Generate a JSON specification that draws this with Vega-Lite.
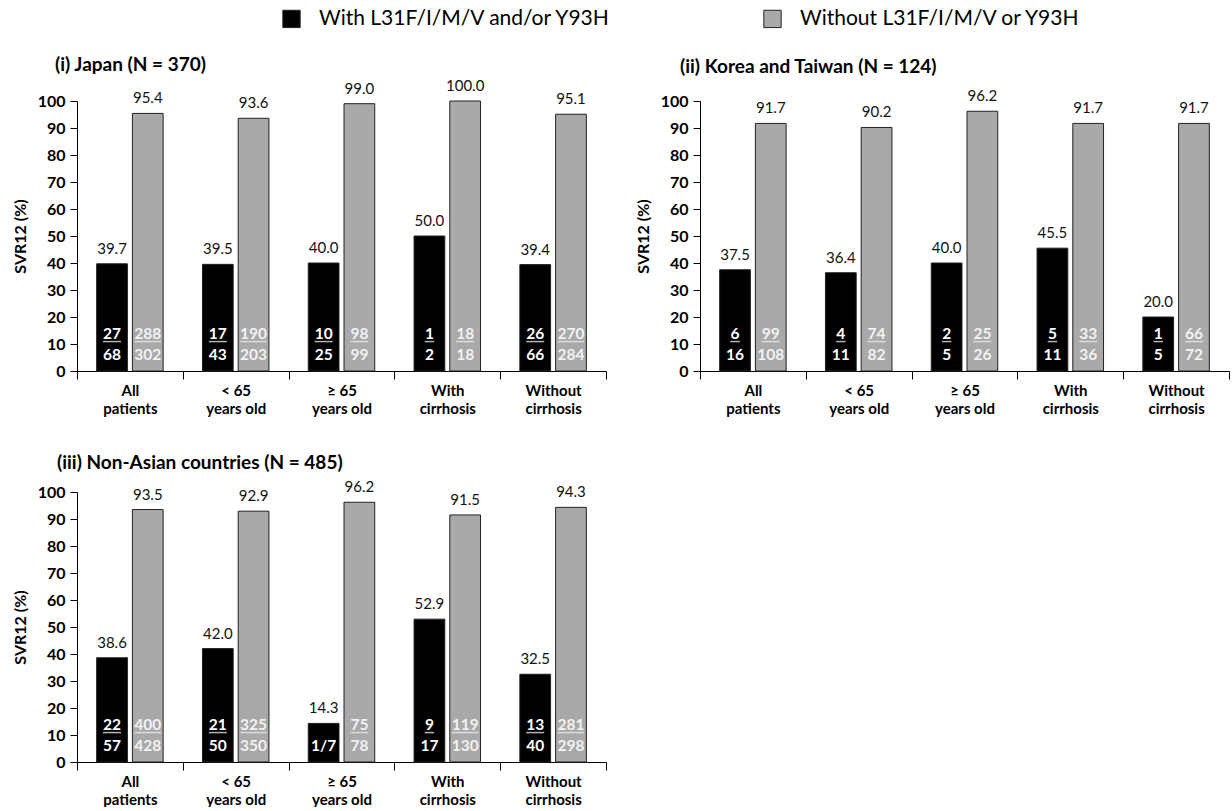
{
  "$schema": "https://vega.github.io/schema/vega-lite/v6.json",
  "padding": {"left": 12, "top": 8, "right": 0, "bottom": 0},
  "datasets": {
    "d": [
      {"region": "Japan", "cat": "All|patients", "grp": "With L31F/I/M/V and/or Y93H", "svr": 39.7, "num": "27", "den": "68"},
      {"region": "Japan", "cat": "All|patients", "grp": "Without L31F/I/M/V or Y93H", "svr": 95.4, "num": "288", "den": "302"},
      {"region": "Japan", "cat": "< 65|years old", "grp": "With L31F/I/M/V and/or Y93H", "svr": 39.5, "num": "17", "den": "43"},
      {"region": "Japan", "cat": "< 65|years old", "grp": "Without L31F/I/M/V or Y93H", "svr": 93.6, "num": "190", "den": "203"},
      {"region": "Japan", "cat": "≥ 65|years old", "grp": "With L31F/I/M/V and/or Y93H", "svr": 40.0, "num": "10", "den": "25"},
      {"region": "Japan", "cat": "≥ 65|years old", "grp": "Without L31F/I/M/V or Y93H", "svr": 99.0, "num": "98", "den": "99"},
      {"region": "Japan", "cat": "With|cirrhosis", "grp": "With L31F/I/M/V and/or Y93H", "svr": 50.0, "num": "1", "den": "2"},
      {"region": "Japan", "cat": "With|cirrhosis", "grp": "Without L31F/I/M/V or Y93H", "svr": 100.0, "num": "18", "den": "18"},
      {"region": "Japan", "cat": "Without|cirrhosis", "grp": "With L31F/I/M/V and/or Y93H", "svr": 39.4, "num": "26", "den": "66"},
      {"region": "Japan", "cat": "Without|cirrhosis", "grp": "Without L31F/I/M/V or Y93H", "svr": 95.1, "num": "270", "den": "284"},
      {"region": "Korea", "cat": "All|patients", "grp": "With L31F/I/M/V and/or Y93H", "svr": 37.5, "num": "6", "den": "16"},
      {"region": "Korea", "cat": "All|patients", "grp": "Without L31F/I/M/V or Y93H", "svr": 91.7, "num": "99", "den": "108"},
      {"region": "Korea", "cat": "< 65|years old", "grp": "With L31F/I/M/V and/or Y93H", "svr": 36.4, "num": "4", "den": "11"},
      {"region": "Korea", "cat": "< 65|years old", "grp": "Without L31F/I/M/V or Y93H", "svr": 90.2, "num": "74", "den": "82"},
      {"region": "Korea", "cat": "≥ 65|years old", "grp": "With L31F/I/M/V and/or Y93H", "svr": 40.0, "num": "2", "den": "5"},
      {"region": "Korea", "cat": "≥ 65|years old", "grp": "Without L31F/I/M/V or Y93H", "svr": 96.2, "num": "25", "den": "26"},
      {"region": "Korea", "cat": "With|cirrhosis", "grp": "With L31F/I/M/V and/or Y93H", "svr": 45.5, "num": "5", "den": "11"},
      {"region": "Korea", "cat": "With|cirrhosis", "grp": "Without L31F/I/M/V or Y93H", "svr": 91.7, "num": "33", "den": "36"},
      {"region": "Korea", "cat": "Without|cirrhosis", "grp": "With L31F/I/M/V and/or Y93H", "svr": 20.0, "num": "1", "den": "5"},
      {"region": "Korea", "cat": "Without|cirrhosis", "grp": "Without L31F/I/M/V or Y93H", "svr": 91.7, "num": "66", "den": "72"},
      {"region": "NonAsian", "cat": "All|patients", "grp": "With L31F/I/M/V and/or Y93H", "svr": 38.6, "num": "22", "den": "57"},
      {"region": "NonAsian", "cat": "All|patients", "grp": "Without L31F/I/M/V or Y93H", "svr": 93.5, "num": "400", "den": "428"},
      {"region": "NonAsian", "cat": "< 65|years old", "grp": "With L31F/I/M/V and/or Y93H", "svr": 42.0, "num": "21", "den": "50"},
      {"region": "NonAsian", "cat": "< 65|years old", "grp": "Without L31F/I/M/V or Y93H", "svr": 92.9, "num": "325", "den": "350"},
      {"region": "NonAsian", "cat": "≥ 65|years old", "grp": "With L31F/I/M/V and/or Y93H", "svr": 14.3, "num": "", "den": "1/7"},
      {"region": "NonAsian", "cat": "≥ 65|years old", "grp": "Without L31F/I/M/V or Y93H", "svr": 96.2, "num": "75", "den": "78"},
      {"region": "NonAsian", "cat": "With|cirrhosis", "grp": "With L31F/I/M/V and/or Y93H", "svr": 52.9, "num": "9", "den": "17"},
      {"region": "NonAsian", "cat": "With|cirrhosis", "grp": "Without L31F/I/M/V or Y93H", "svr": 91.5, "num": "119", "den": "130"},
      {"region": "NonAsian", "cat": "Without|cirrhosis", "grp": "With L31F/I/M/V and/or Y93H", "svr": 32.5, "num": "13", "den": "40"},
      {"region": "NonAsian", "cat": "Without|cirrhosis", "grp": "Without L31F/I/M/V or Y93H", "svr": 94.3, "num": "281", "den": "298"}
    ]
  },
  "vconcat": [
    {
      "hconcat": [
        {
          "width": 529, "height": 270,
          "title": {"text": "(i) Japan (N = 370)", "anchor": "start", "frame": "group", "dx": -22, "offset": 4},
          "data": {"name": "d"},
          "transform": [{"filter": "datum.region == 'Japan'"}],
          "encoding": {
            "x": {"field": "cat", "type": "nominal", "sort": null, "scale": {"paddingInner": 0, "paddingOuter": 0},
                  "axis": {"title": null, "labelAngle": 0, "labelExpr": "split(datum.label, '|')", "labelFontWeight": "bold", "labelFontSize": 15, "labelLineHeight": 18, "labelPadding": 4, "tickBand": "extent", "tickSize": 8}},
            "xOffset": {"field": "grp", "type": "nominal", "sort": null, "scale": {"paddingInner": 0.14, "paddingOuter": 0.55}},
            "y": {"field": "svr", "type": "quantitative", "title": "SVR12 (%)", "scale": {"domain": [0, 100], "nice": false},
                  "axis": {"values": [0, 10, 20, 30, 40, 50, 60, 70, 80, 90, 100], "grid": false, "labelOverlap": false}}
          },
          "layer": [
            {"mark": {"type": "bar", "stroke": "#222222", "strokeWidth": 1},
             "encoding": {"color": {"field": "grp", "type": "nominal", "sort": null,
                                    "scale": {"domain": ["With L31F/I/M/V and/or Y93H", "Without L31F/I/M/V or Y93H"], "range": ["#000000", "#a9a9a9"]},
                                    "legend": {"title": null, "orient": "none", "legendX": 204, "legendY": -93, "direction": "horizontal", "symbolType": "square", "symbolSize": 300, "symbolStrokeColor": "#000000", "symbolStrokeWidth": 1, "symbolOpacity": 1, "labelFontSize": 21, "labelOffset": 17, "columnPadding": 150, "labelLimit": 400}}}},
            {"mark": {"type": "text", "baseline": "bottom", "dy": -7, "fontSize": 15, "color": "#111111"},
             "encoding": {"text": {"field": "svr", "type": "quantitative", "format": ".1f"}}},
            {"mark": {"type": "text", "baseline": "middle", "fontSize": 15.5, "fontWeight": "bold"},
             "encoding": {"y": {"datum": 13.8, "type": "quantitative"}, "text": {"field": "num"},
                          "color": {"condition": {"test": "datum.grp == 'Without L31F/I/M/V or Y93H'", "value": "#f2f2f2"}, "value": "#ffffff"}}},
            {"transform": [{"filter": "datum.num != ''"}, {"calculate": "length(datum.num) * 8.5 + 1", "as": "ulen"}],
             "mark": {"type": "tick", "thickness": 1.5},
             "encoding": {"y": {"datum": 10.9, "type": "quantitative"}, "size": {"field": "ulen", "type": "quantitative", "scale": null},
                          "color": {"condition": {"test": "datum.grp == 'Without L31F/I/M/V or Y93H'", "value": "#f2f2f2"}, "value": "#ffffff"}}},
            {"mark": {"type": "text", "baseline": "middle", "fontSize": 15.5, "fontWeight": "bold"},
             "encoding": {"y": {"datum": 6, "type": "quantitative"}, "text": {"field": "den"},
                          "color": {"condition": {"test": "datum.grp == 'Without L31F/I/M/V or Y93H'", "value": "#f2f2f2"}, "value": "#ffffff"}}}
          ]
        },
        {
          "width": 529, "height": 270,
          "title": {"text": "(ii) Korea and Taiwan (N = 124)", "anchor": "start", "frame": "group", "dx": -20, "offset": 12},
          "data": {"name": "d"},
          "transform": [{"filter": "datum.region == 'Korea'"}],
          "encoding": {
            "x": {"field": "cat", "type": "nominal", "sort": null, "scale": {"paddingInner": 0, "paddingOuter": 0},
                  "axis": {"title": null, "labelAngle": 0, "labelExpr": "split(datum.label, '|')", "labelFontWeight": "bold", "labelFontSize": 15, "labelLineHeight": 18, "labelPadding": 4, "tickBand": "extent", "tickSize": 8}},
            "xOffset": {"field": "grp", "type": "nominal", "sort": null, "scale": {"paddingInner": 0.14, "paddingOuter": 0.55}},
            "y": {"field": "svr", "type": "quantitative", "title": "SVR12 (%)", "scale": {"domain": [0, 100], "nice": false},
                  "axis": {"values": [0, 10, 20, 30, 40, 50, 60, 70, 80, 90, 100], "grid": false, "labelOverlap": false}}
          },
          "layer": [
            {"mark": {"type": "bar", "stroke": "#222222", "strokeWidth": 1},
             "encoding": {"color": {"field": "grp", "type": "nominal", "sort": null,
                                    "scale": {"domain": ["With L31F/I/M/V and/or Y93H", "Without L31F/I/M/V or Y93H"], "range": ["#000000", "#a9a9a9"]}}}},
            {"mark": {"type": "text", "baseline": "bottom", "dy": -7, "fontSize": 15, "color": "#111111"},
             "encoding": {"text": {"field": "svr", "type": "quantitative", "format": ".1f"}}},
            {"mark": {"type": "text", "baseline": "middle", "fontSize": 15.5, "fontWeight": "bold"},
             "encoding": {"y": {"datum": 13.8, "type": "quantitative"}, "text": {"field": "num"},
                          "color": {"condition": {"test": "datum.grp == 'Without L31F/I/M/V or Y93H'", "value": "#f2f2f2"}, "value": "#ffffff"}}},
            {"transform": [{"filter": "datum.num != ''"}, {"calculate": "length(datum.num) * 8.5 + 1", "as": "ulen"}],
             "mark": {"type": "tick", "thickness": 1.5},
             "encoding": {"y": {"datum": 10.9, "type": "quantitative"}, "size": {"field": "ulen", "type": "quantitative", "scale": null},
                          "color": {"condition": {"test": "datum.grp == 'Without L31F/I/M/V or Y93H'", "value": "#f2f2f2"}, "value": "#ffffff"}}},
            {"mark": {"type": "text", "baseline": "middle", "fontSize": 15.5, "fontWeight": "bold"},
             "encoding": {"y": {"datum": 6, "type": "quantitative"}, "text": {"field": "den"},
                          "color": {"condition": {"test": "datum.grp == 'Without L31F/I/M/V or Y93H'", "value": "#f2f2f2"}, "value": "#ffffff"}}}
          ]
        }
      ],
      "spacing": 28
    },
    {
      "width": 529, "height": 270,
      "title": {"text": "(iii) Non-Asian countries (N = 485)", "anchor": "start", "frame": "group", "dx": -20, "offset": 7},
      "data": {"name": "d"},
      "transform": [{"filter": "datum.region == 'NonAsian'"}],
      "encoding": {
        "x": {"field": "cat", "type": "nominal", "sort": null, "scale": {"paddingInner": 0, "paddingOuter": 0},
              "axis": {"title": null, "labelAngle": 0, "labelExpr": "split(datum.label, '|')", "labelFontWeight": "bold", "labelFontSize": 15, "labelLineHeight": 18, "labelPadding": 4, "tickBand": "extent", "tickSize": 8}},
        "xOffset": {"field": "grp", "type": "nominal", "sort": null, "scale": {"paddingInner": 0.14, "paddingOuter": 0.55}},
        "y": {"field": "svr", "type": "quantitative", "title": "SVR12 (%)", "scale": {"domain": [0, 100], "nice": false},
              "axis": {"values": [0, 10, 20, 30, 40, 50, 60, 70, 80, 90, 100], "grid": false, "labelOverlap": false}}
      },
      "layer": [
        {"mark": {"type": "bar", "stroke": "#222222", "strokeWidth": 1},
         "encoding": {"color": {"field": "grp", "type": "nominal", "sort": null,
                                "scale": {"domain": ["With L31F/I/M/V and/or Y93H", "Without L31F/I/M/V or Y93H"], "range": ["#000000", "#a9a9a9"]}}}},
        {"mark": {"type": "text", "baseline": "bottom", "dy": -7, "fontSize": 15, "color": "#111111"},
         "encoding": {"text": {"field": "svr", "type": "quantitative", "format": ".1f"}}},
        {"mark": {"type": "text", "baseline": "middle", "fontSize": 15.5, "fontWeight": "bold"},
         "encoding": {"y": {"datum": 13.8, "type": "quantitative"}, "text": {"field": "num"},
                      "color": {"condition": {"test": "datum.grp == 'Without L31F/I/M/V or Y93H'", "value": "#f2f2f2"}, "value": "#ffffff"}}},
        {"transform": [{"filter": "datum.num != ''"}, {"calculate": "length(datum.num) * 8.5 + 1", "as": "ulen"}],
         "mark": {"type": "tick", "thickness": 1.5},
         "encoding": {"y": {"datum": 10.9, "type": "quantitative"}, "size": {"field": "ulen", "type": "quantitative", "scale": null},
                      "color": {"condition": {"test": "datum.grp == 'Without L31F/I/M/V or Y93H'", "value": "#f2f2f2"}, "value": "#ffffff"}}},
        {"mark": {"type": "text", "baseline": "middle", "fontSize": 15.5, "fontWeight": "bold"},
         "encoding": {"y": {"datum": 6, "type": "quantitative"}, "text": {"field": "den"},
                      "color": {"condition": {"test": "datum.grp == 'Without L31F/I/M/V or Y93H'", "value": "#f2f2f2"}, "value": "#ffffff"}}}
      ]
    }
  ],
  "spacing": 38,
  "config": {
    "font": "Lato",
    "view": {"stroke": null},
    "title": {"fontSize": 19, "fontWeight": "bold", "color": "#000000"},
    "axis": {"domainColor": "#000000", "tickColor": "#000000", "labelColor": "#000000", "titleColor": "#000000", "domainWidth": 1, "tickWidth": 1},
    "axisY": {"labelFontWeight": "bold", "labelFontSize": 16, "titleFontSize": 16, "titleFontWeight": "bold", "tickSize": 7, "titlePadding": 9, "labelPadding": 5},
    "legend": {"labelColor": "#000000"}
  }
}
